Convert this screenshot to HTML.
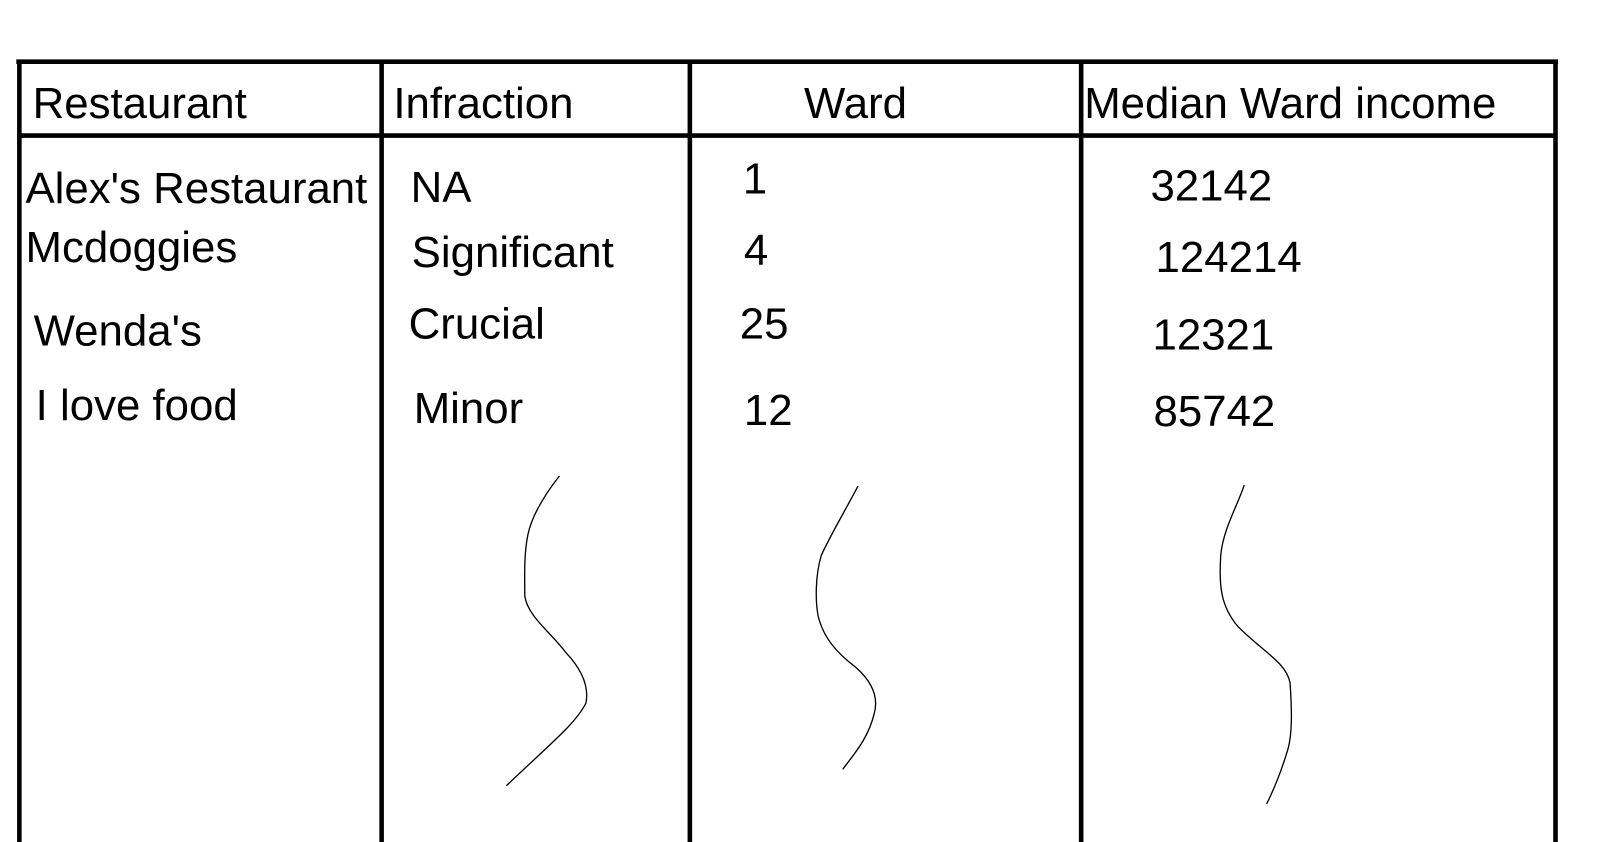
<!DOCTYPE html>
<html><head><meta charset="utf-8"><style>
html,body{margin:0;padding:0;background:#fff;width:1597px;height:842px;overflow:hidden}
text{font-family:"Liberation Sans",sans-serif;font-size:43px;fill:#000}
</style></head><body>
<svg width="1597" height="842" viewBox="0 0 1597 842">
<g transform="scale(1.019)">
<g stroke="#000" stroke-width="4.5" fill="none">
<line x1="16" y1="60.5" x2="1529" y2="60.5"/>
<line x1="18" y1="133" x2="1527" y2="133"/>
<line x1="19" y1="60" x2="19" y2="830"/>
<line x1="374.5" y1="60" x2="374.5" y2="830"/>
<line x1="677" y1="60" x2="677" y2="830"/>
<line x1="1061" y1="60" x2="1061" y2="830"/>
<line x1="1526.5" y1="60" x2="1526.5" y2="830"/>
</g>
<g>
<text x="32" y="116">Restaurant</text>
<text x="386" y="116">Infraction</text>
<text x="789" y="116">Ward</text>
<text x="1064" y="116">Median Ward income</text>
</g>
<g>
<text x="25" y="199">Alex's Restaurant</text>
<text x="25" y="257">Mcdoggies</text>
<text x="33" y="339">Wenda's</text>
<text x="35" y="412">I love food</text>
</g>
<g>
<text x="403" y="198">NA</text>
<text x="404" y="262">Significant</text>
<text x="401" y="332">Crucial</text>
<text x="406" y="415">Minor</text>
</g>
<g>
<text x="729" y="190">1</text>
<text x="730" y="260">4</text>
<text x="726" y="332">25</text>
<text x="730" y="417">12</text>
</g>
<g>
<text x="1129" y="197">32142</text>
<text x="1134" y="267">124214</text>
<text x="1131" y="343">12321</text>
<text x="1132" y="418">85742</text>
</g>
<g stroke="#000" stroke-width="1.3" fill="none">
<path d="M549,467 C535,485 522,505 518,525 C514,545 515,565 515,585 C518,605 540,620 555,640 C572,658 578,675 575,690 C565,710 540,730 497,771"/>
<path d="M842,477 C830,500 815,525 806,545 C800,565 800,590 803,605 C808,625 820,640 840,655 C857,670 862,685 858,700 C852,725 838,740 827,755"/>
<path d="M1221,476 C1215,495 1200,520 1198,545 C1196,575 1198,595 1215,615 C1240,640 1262,650 1266,670 C1268,700 1268,720 1264,735 C1258,755 1250,775 1243,789"/>
</g>
</g>
</svg>
</body></html>
